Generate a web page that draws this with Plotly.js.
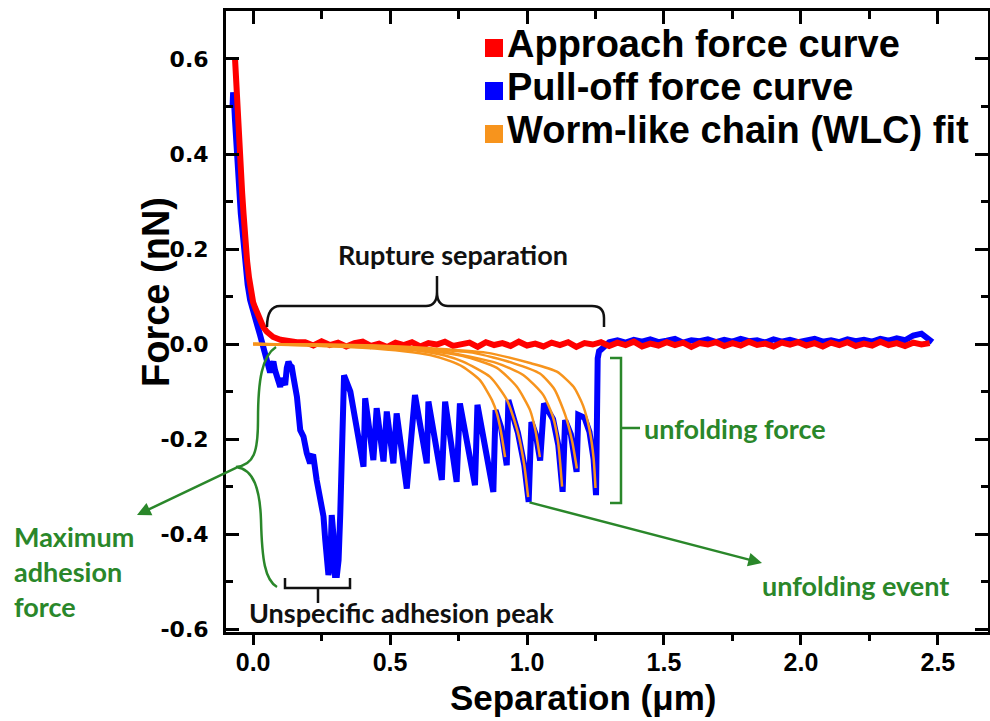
<!DOCTYPE html>
<html>
<head>
<meta charset="utf-8">
<script src="https://cdn.plot.ly/plotly-3.0.1.min.js"></script>
<style>html,body{margin:0;padding:0;background:#fff;}#chart{width:990px;height:721px;}</style>
</head>
<body>
<div id="chart"></div>
<script>
// ---------------- data ----------------
const approachX = [-0.066,-0.062,-0.058,-0.055,-0.050,-0.045,-0.040,-0.035,-0.029,-0.022,-0.015,-0.011,-0.005,0.000,0.007,0.015,0.025,0.037,0.050,0.073,0.100,0.130,0.160,
0.19,0.22,0.25,0.28,0.31,0.34,0.37,0.40,0.43,0.46,0.49,0.52,0.55,0.58,0.61,0.64,0.67,0.70,0.73,0.76,0.79,0.82,0.85,0.88,0.91,0.94,0.97,1.00,1.03,1.06,1.09,1.12,1.15,1.18,1.21,1.24,1.27,1.30,1.33,1.36,1.39,1.42,1.45,1.48,1.51,1.54,1.57,1.60,1.63,1.66,1.69,1.72,1.75,1.78,1.81,1.84,1.87,1.90,1.93,1.96,1.99,2.02,2.05,2.08,2.11,2.14,2.17,2.20,2.23,2.26,2.29,2.32,2.35,2.38,2.41,2.44,2.47];
const approachY = [0.600,0.550,0.500,0.457,0.410,0.360,0.318,0.275,0.213,0.175,0.140,0.120,0.100,0.088,0.077,0.065,0.050,0.036,0.026,0.015,0.009,0.006,0.004,
0.004,-0.003,0.006,-0.002,0.003,-0.005,0.002,0.005,-0.004,0.001,
-0.006,0.003,-0.002,0.004,-0.005,0.002,-0.001,0.005,-0.004,0.000,
0.003,-0.006,0.004,-0.002,0.002,-0.004,0.005,-0.003,0.001,-0.005,
0.003,-0.002,0.004,-0.006,0.002,-0.001,0.004,-0.004,0.003,-0.002,
0.005,-0.005,0.001,-0.003,0.004,-0.002,0.003,-0.006,0.002,-0.001,
0.004,-0.004,0.002,-0.003,0.005,-0.002,0.001,-0.005,0.003,-0.001,
0.004,-0.003,0.002,-0.005,0.003,-0.002,0.004,-0.004,0.001,-0.003,
0.005,-0.002,0.002,-0.004,0.003,-0.001,0.002];

const pullX = [-0.075,-0.073,-0.070,-0.066,-0.062,-0.058,-0.055,-0.050,-0.045,-0.040,
-0.035,-0.029,-0.020,-0.011,0.000,0.008,0.015,0.025,0.033,0.040,
0.046,0.052,0.062,0.068,0.074,0.080,0.086,0.092,0.099,0.105,
0.110,0.117,0.123,0.129,0.135,0.141,0.147,0.160,0.172,0.184,
0.196,0.208,0.214,0.220,0.232,0.245,0.257,0.263,0.269,0.275,
0.281,0.287,0.293,0.299,0.306,0.312,0.318,0.326,0.332,
0.355,0.375,0.390,0.403, 0.409,0.425,0.439, 0.451,0.464,0.476, 0.488,0.500,0.512, 0.524,0.540,0.561,
0.591,0.612,0.634, 0.640,0.665,0.689, 0.701,0.722,0.743, 0.755,0.782,0.810, 0.819,0.848,0.877,
0.885,0.905,0.926, 0.932,0.967,0.990,1.006, 1.016,1.032,1.048, 1.062,1.095,1.114,1.130,
1.139,1.160,1.181, 1.187,1.210,1.228,1.243,1.252, 1.258,1.263,
1.27,1.30,1.33,1.36,1.39,1.42,1.45,1.48,1.51,1.54,1.57,1.60,1.63,1.66,1.69,1.72,1.75,1.78,1.81,1.84,
1.87,1.90,1.93,1.96,1.99,2.02,2.05,2.08,2.11,2.14,2.17,2.20,2.23,2.26,2.29,2.32,2.35,2.38,2.41,2.44,2.47,2.48];
const pullY = [0.50,0.53,0.515,0.47,0.42,0.38,0.35,0.31,0.275,0.246,
0.205,0.162,0.125,0.093,0.066,0.052,0.040,0.020,0.002,-0.018,
-0.034,-0.044,-0.060,-0.045,-0.037,-0.055,-0.069,-0.080,-0.090,-0.072,
-0.076,-0.086,-0.050,-0.037,-0.045,-0.048,-0.069,-0.111,-0.181,-0.195,
-0.230,-0.251,-0.236,-0.237,-0.286,-0.335,-0.363,-0.410,-0.462,-0.486,
-0.470,-0.360,-0.400,-0.486,-0.486,-0.455,-0.360,-0.150,-0.066,
-0.100,-0.170,-0.220,-0.258, -0.114,-0.190,-0.244, -0.135,-0.190,-0.247, -0.142,-0.190,-0.251, -0.146,-0.210,-0.304,
-0.107,-0.170,-0.251, -0.121,-0.200,-0.286, -0.121,-0.200,-0.290, -0.125,-0.210,-0.297, -0.128,-0.220,-0.311,
-0.139,-0.175,-0.255, -0.118,-0.187,-0.255,-0.332, -0.164,-0.190,-0.245, -0.125,-0.158,-0.212,-0.311,
-0.160,-0.190,-0.269, -0.149,-0.155,-0.185,-0.242,-0.318, -0.030,-0.015,
-0.012,0.004,0.008,0.003,0.009,0.005,0.010,0.004,0.007,0.011,
0.003,0.008,0.006,0.010,0.004,0.009,0.005,0.011,0.006,0.008,
0.003,0.010,0.005,0.009,0.004,0.007,0.011,0.005,0.008,0.004,
0.010,0.006,0.009,0.005,0.011,0.007,0.012,0.008,0.018,0.022,0.010,0.004];

// worm-like chain fits (one per unfolding event)
const wlc1X = [0.00,0.20,0.40,0.55,0.646,0.72,0.766,0.828,0.872,0.890,0.905,0.920];
const wlc1Y = [0.000,-0.003,-0.008,-0.015,-0.023,-0.036,-0.048,-0.076,-0.118,-0.146,-0.185,-0.238];
const wlc2X = [0.00,0.25,0.45,0.60,0.70,0.766,0.865,0.927,0.967,0.990,1.004];
const wlc2Y = [0.000,-0.003,-0.008,-0.014,-0.024,-0.037,-0.069,-0.118,-0.187,-0.255,-0.322];
const wlc3X = [0.00,0.30,0.50,0.65,0.766,0.890,0.963,1.011,1.030,1.047];
const wlc3Y = [0.000,-0.003,-0.008,-0.015,-0.025,-0.050,-0.090,-0.139,-0.180,-0.238];
const wlc4X = [0.00,0.35,0.55,0.70,0.890,0.986,1.059,1.095,1.114,1.128];
const wlc4Y = [0.000,-0.003,-0.009,-0.016,-0.040,-0.065,-0.107,-0.154,-0.209,-0.300];
const wlc5X = [0.00,0.40,0.60,0.80,0.949,1.047,1.100,1.140,1.165,1.182];
const wlc5Y = [0.000,-0.003,-0.009,-0.018,-0.040,-0.062,-0.095,-0.150,-0.205,-0.262];
const wlc6X = [0.00,0.45,0.65,0.85,1.011,1.109,1.170,1.205,1.228,1.243,1.250];
const wlc6Y = [0.000,-0.003,-0.009,-0.018,-0.040,-0.058,-0.090,-0.130,-0.180,-0.240,-0.303];

const xTickVals = [0, 0.5, 1.0, 1.5, 2.0, 2.5];
const xTickText = ['0.0','0.5','1.0','1.5','2.0','2.5'];
const yTickVals = [-0.6,-0.4,-0.2,0.0,0.2,0.4,0.6];
const yTickText = ['-0.6','-0.4','-0.2','0.0','0.2','0.4','0.6'];
const xTitle = 'Separation (\u03bcm)';
const yTitle = 'Force (nN)';

const legendNames = ['Approach force curve','Pull-off force curve','Worm-like chain (WLC) fit'];
const seriesColors = ['#ff0000','#0000ff','#f7941d'];

// ---------------- helpers (pixel -> paper) ----------------
const L=226, R=988, T=11, B=632;
const px = v => (v-L)/(R-L);
const py = v => (B-v)/(B-T);
function pathPx(s){ let i=0; return s.replace(/-?\d+(\.\d+)?/g, m => { const v=parseFloat(m); const o=(i%2===0)?px(v):py(v); i++; return o.toFixed(5); }); }

const GREEN = '#2a872a';
const labelFont = (c,s) => ({family:'Lato, "Open Sans", sans-serif', size:s||27, color:c, weight:'bold'});
const ARIAL = '"Liberation Sans", Arial, sans-serif';

// ---------------- traces ----------------
const traces = [
  {x:pullX, y:pullY, type:'scatter', mode:'lines', line:{color:seriesColors[1], width:6}, name:legendNames[1], showlegend:false},
  {x:approachX, y:approachY, type:'scatter', mode:'lines', line:{color:seriesColors[0], width:6}, name:legendNames[0], showlegend:false}
];
[[wlc1X,wlc1Y],[wlc2X,wlc2Y],[wlc3X,wlc3Y],[wlc4X,wlc4Y],[wlc5X,wlc5Y],[wlc6X,wlc6Y]].forEach(f=>{
  traces.push({x:f[0], y:f[1], xaxis:'x2', yaxis:'y', type:'scatter', mode:'lines', line:{color:seriesColors[2], width:2.5, shape:'spline', smoothing:0.6}, name:legendNames[2], showlegend:false});
});

// ---------------- shapes ----------------
const shapes = [];
const baselines = [57,100,143];
seriesColors.forEach((c,i)=>{
  shapes.push({type:'rect', xref:'paper', yref:'paper', x0:px(485), x1:px(503), y0:py(baselines[i]), y1:py(baselines[i]-18), fillcolor:c, line:{width:0}});
});
shapes.push({type:'path', xref:'paper', yref:'paper', line:{color:'#111', width:2.5},
  path: pathPx('M 267 327 Q 267 306 280 306 L 426 306 Q 437 306 437 292 L 437 276 M 437 292 Q 437 306 448 306 L 592 306 Q 604 306 604 318 L 604 327')});
shapes.push({type:'path', xref:'paper', yref:'paper', line:{color:'#111', width:2.5},
  path: pathPx('M 285 578 L 285 588 L 350 588 L 350 578 M 318 588 L 318 603')});
shapes.push({type:'path', xref:'paper', yref:'paper', line:{color:GREEN, width:2.5},
  path: pathPx('M 610 358 L 621 358 L 621 503 L 610 503 M 621 428 L 640 428')});
shapes.push({type:'path', xref:'paper', yref:'paper', line:{color:GREEN, width:2.5},
  path: pathPx('M 276 347 C 262 356 258 380 258 420 C 258 452 254 465 236 467 M 236 467 C 254 469 260 490 261 520 C 262 560 265 580 277 587')});

// ---------------- annotations ----------------
const annotations = [];
legendNames.forEach((n,i)=>{
  annotations.push({xref:'paper', yref:'paper', x:px(505), y:py(baselines[i]-13), xanchor:'left', yanchor:'middle', showarrow:false,
    text:n, font:{family:ARIAL, size:38, color:'#000', weight:'bold'}});
});
// axis titles
annotations.push({xref:'paper', yref:'paper', x:px(583), y:py(697), xanchor:'center', yanchor:'middle', showarrow:false,
  text:xTitle, font:{family:ARIAL, size:35, color:'#000', weight:'bold'}});
annotations.push({xref:'paper', yref:'paper', x:px(156), y:py(292), xanchor:'center', yanchor:'middle', showarrow:false, textangle:-90,
  text:yTitle, font:{family:ARIAL, size:38, color:'#000', weight:'bold'}});
annotations.push({xref:'paper', yref:'paper', x:px(453), y:py(255), xanchor:'center', yanchor:'middle', showarrow:false, text:'Rupture separation', font:labelFont('#111')});
annotations.push({xref:'paper', yref:'paper', x:px(401), y:py(612), xanchor:'center', yanchor:'middle', showarrow:false, text:'Unspecific adhesion peak', font:labelFont('#111')});
annotations.push({xref:'paper', yref:'paper', x:px(642), y:py(428), xanchor:'left', yanchor:'middle', showarrow:false, text:'unfolding force', font:labelFont(GREEN)});
annotations.push({xref:'paper', yref:'paper', x:px(855), y:py(585), xanchor:'center', yanchor:'middle', showarrow:false, text:'unfolding event', font:labelFont(GREEN)});
annotations.push({xref:'paper', yref:'paper', x:px(12), y:py(571), xanchor:'left', yanchor:'middle', align:'left', showarrow:false, text:'Maximum<br>adhesion<br>force', font:labelFont(GREEN)});
// arrows
annotations.push({xref:'paper', yref:'paper', x:px(762), y:py(563), ax:528-762, ay:502-563, text:'', showarrow:true, arrowhead:2, arrowsize:1.1, arrowwidth:2.5, arrowcolor:GREEN, standoff:0, startstandoff:0});
annotations.push({xref:'paper', yref:'paper', x:px(137), y:py(515), ax:238-137, ay:467-515, text:'', showarrow:true, arrowhead:2, arrowsize:1.1, arrowwidth:2.5, arrowcolor:GREEN, standoff:0, startstandoff:0});

// ---------------- layout ----------------
const layout = {
  width:990, height:721,
  margin:{l:L, r:990-R, t:T, b:721-B, pad:0},
  paper_bgcolor:'#fff', plot_bgcolor:'#fff',
  showlegend:false,
  xaxis:{
    range:[-0.099, 2.683], tickmode:'array', tickvals:xTickVals, ticktext:xTickText,
    ticks:'outside', ticklen:10, tickwidth:3, tickcolor:'#000',
    minor:{tick0:0, dtick:0.25, ticks:'outside', ticklen:6, tickwidth:3, tickcolor:'#000'},
    showline:true, linewidth:3, linecolor:'#000', mirror:true,
    showgrid:false, zeroline:false,
    tickfont:{family:ARIAL, size:25, color:'#000', weight:'bold'},
    ticklabelstandoff:-4
  },
  xaxis2:{
    overlaying:'x', matches:'x', side:'top', anchor:'y',
    tickmode:'array', tickvals:xTickVals, showticklabels:false,
    ticks:'inside', ticklen:13, tickwidth:3, tickcolor:'#000',
    minor:{tick0:0, dtick:0.25, ticks:'inside', ticklen:8, tickwidth:3, tickcolor:'#000'},
    showline:false, showgrid:false, zeroline:false
  },
  yaxis:{
    range:[-0.606, 0.701], tickmode:'array', tickvals:yTickVals, ticktext:yTickText,
    ticks:'inside', ticklen:13, tickwidth:3, tickcolor:'#000',
    minor:{tick0:0, dtick:0.1, ticks:'inside', ticklen:7, tickwidth:3, tickcolor:'#000'},
    showline:true, linewidth:3, linecolor:'#000', mirror:'ticks',
    showgrid:false, zeroline:false,
    tickfont:{family:'"DejaVu Sans", sans-serif', size:22, color:'#000', weight:'bold'},
    ticklabelstandoff:10
  },
  shapes:shapes,
  annotations:annotations
};

Plotly.newPlot('chart', traces, layout, {displayModeBar:false, staticPlot:true});
</script>
</body>
</html>
